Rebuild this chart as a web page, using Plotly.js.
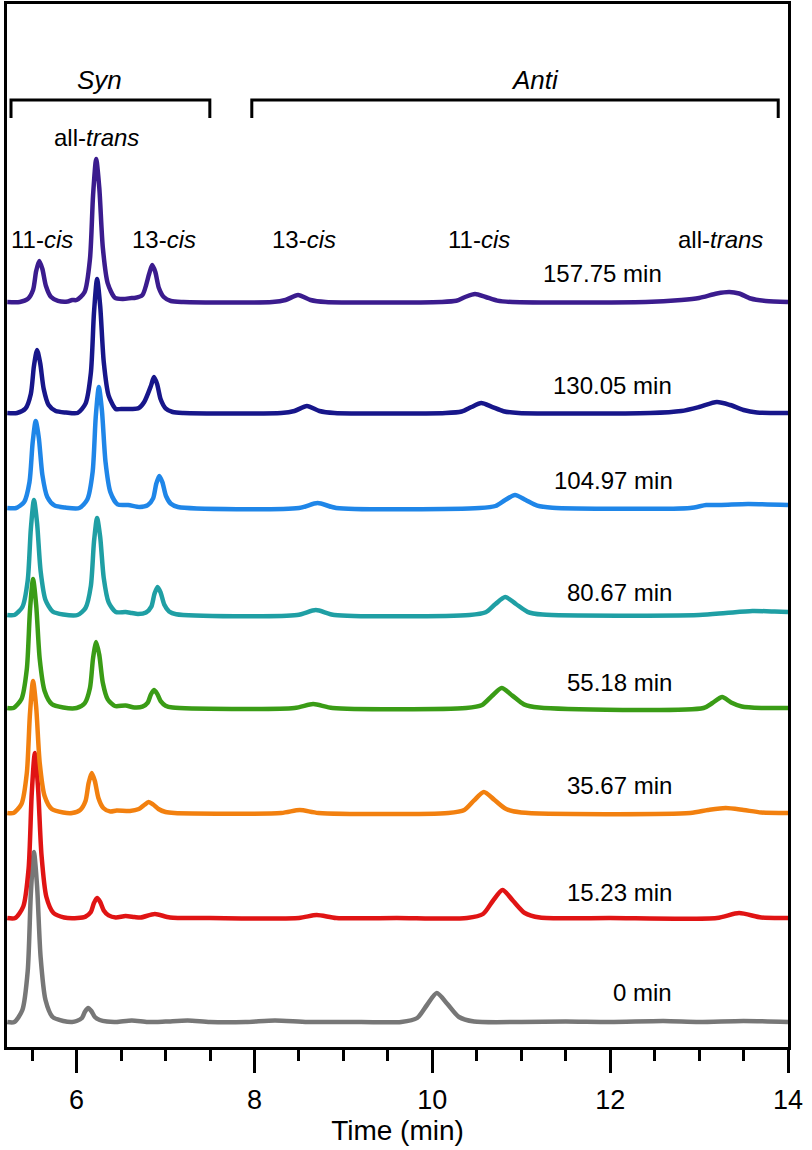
<!DOCTYPE html>
<html>
<head>
<meta charset="utf-8">
<script src="https://cdn.plot.ly/plotly-3.0.1.min.js"></script>
<style>html,body{margin:0;padding:0;background:#fff;}#chart{width:812px;height:1150px;}</style>
</head>
<body>
<div id="chart"></div>
<script>
// Sample labels (reaction times), bottom to top
const runLabels = ["0 min", "15.23 min", "35.67 min", "55.18 min", "80.67 min", "104.97 min", "130.05 min", "157.75 min"];
const runColors = ["#777777", "#e01414", "#f2800f", "#3a9c16", "#1f9fa4", "#1f86e8", "#17168a", "#3b1c8e"];
// Vertical stacking offset of each chromatogram (signal units)
const runOffsets = [25, 129, 234, 339, 432, 539, 634, 745];

// Retention time (min) and detector signal (above baseline) per run
const time0 = [5.22,5.30,5.39,5.45,5.485,5.52,5.555,5.595,5.65,5.73,5.85,5.95,6.0,6.06,6.095,6.13,6.165,6.205,6.26,6.34,6.45,6.62,6.8,7.0,7.25,7.5,7.9,8.23,8.6,9.2,9.65,9.83,9.94,10.05,10.17,10.3,10.47,11.0,11.5,12.0,12.6,13.0,13.5,14.0];
const sig0  = [0,0,12,51,128,170,136,65,22,5,1,0,1,4,10.5,14,11,5,2,0.4,0,1.5,0,0.5,1.5,0,0,1.5,0,0,0,4,17,29,18,5,0.5,0,0.5,0,1,0,1,0];

const time1 = [5.22,5.31,5.40,5.46,5.495,5.53,5.565,5.605,5.66,5.74,5.86,6.01,6.10,6.16,6.195,6.23,6.265,6.305,6.36,6.44,6.55,6.65,6.72,6.88,7.05,7.5,8.5,8.7,8.92,9.6,10.39,10.57,10.68,10.79,10.91,11.04,11.21,12.0,13.2,13.45,13.7,14.0];
const sig1  = [0,0,11.5,49.5,124,165,132,63,21,5,0.5,0,1.4,6,15,20,16,7.6,2.6,0.6,2,1,0.5,4,0.5,0,0,3,0,0,0,4,17,28,17,5,0.5,0,0,5,0.5,0];

const time2 = [5.22,5.29,5.38,5.44,5.475,5.51,5.545,5.585,5.64,5.72,5.85,5.95,6.04,6.10,6.135,6.17,6.205,6.245,6.30,6.38,6.45,6.6,6.7,6.76,6.81,6.86,6.92,7.0,7.1,8.3,8.51,8.72,10.18,10.36,10.47,10.58,10.70,10.83,11.0,12.9,13.1,13.3,13.5,13.7,14.0];
const sig2  = [0,0,9,40,99,132,106,50,17,4,0.5,0,3,12,30,40,32,15,5,1.5,2.5,2,4,8,11,8.5,4,1,0,0,3,0,0,3,12.6,21,13,4,0.5,0,3,5,3,0.5,0];

const time3 = [5.22,5.29,5.38,5.44,5.475,5.51,5.545,5.585,5.64,5.72,5.85,6.0,6.09,6.15,6.185,6.22,6.255,6.295,6.35,6.43,6.55,6.65,6.74,6.8,6.835,6.87,6.905,6.945,7.0,7.08,8.45,8.66,8.88,10.38,10.56,10.67,10.78,10.90,11.03,11.2,13.05,13.15,13.26,13.36,13.48,13.7,14.0];
const sig3  = [0,0,9,39,97,129,103,49,17,4,0.5,0,4.6,20,50,66,53,25,8.6,2,2.5,0.5,1.3,5.4,13.5,18,14.4,6.8,2.3,0.5,0,4,0,0,3,12,20,12.4,3.6,0.4,0,5,11,5.5,1.5,0,0];

const time4 = [5.22,5.30,5.39,5.45,5.485,5.52,5.555,5.595,5.65,5.73,5.85,6.01,6.10,6.16,6.195,6.23,6.265,6.305,6.36,6.44,6.55,6.62,6.69,6.78,6.84,6.875,6.91,6.945,6.985,7.04,7.12,8.48,8.69,8.9,10.42,10.6,10.71,10.82,10.94,11.07,11.24,13.0,13.3,13.6,13.85,14.0];
const sig4  = [0,0,8,34.5,86,115,92,44,15,3.5,0.5,0,7,29,73,97,78,37,12.6,3,3,2,1,2.5,8.4,21,28,22.4,10.6,3.6,0.8,0,5,0,0,2.7,11,18,11,3.2,0.4,0,2,4,3.5,3];

const time5 = [5.22,5.32,5.41,5.47,5.505,5.54,5.575,5.615,5.67,5.75,5.87,6.03,6.12,6.18,6.215,6.25,6.285,6.325,6.38,6.46,6.58,6.71,6.8,6.86,6.895,6.93,6.965,7.005,7.06,7.14,8.5,8.71,8.92,10.53,10.71,10.82,10.93,11.05,11.18,11.35,12.9,13.08,13.25,13.55,14.0];
const sig5  = [0,0,6,26,65,87,70,33,11,2.6,0.5,0,8.5,36,91,121,97,46,15.7,3.6,3,1,2.8,9.6,24,32,25.6,12,4.2,1,0,5,0,0,2,8,13,8,2.3,0.3,0,3,3,4,3];

const time6 = [5.22,5.33,5.425,5.485,5.52,5.555,5.59,5.63,5.685,5.765,5.88,6.01,6.10,6.16,6.195,6.23,6.265,6.305,6.36,6.44,6.5,6.62,6.7,6.76,6.835,6.87,6.905,6.945,7.0,7.08,7.2,8.3,8.45,8.59,8.73,8.9,10.15,10.33,10.44,10.55,10.67,10.8,10.97,12.45,12.8,13.0,13.2,13.35,13.5,13.65,14.0];
const sig6  = [0,0,4.4,19,47,63,50,24,8,2,0.5,0,9.4,40,100,134,107,51,17.4,4,4,4,5,11,27,36,29,13.7,4.7,1,0,0,2,7,2,0,0,1.5,6,10,6.2,1.8,0,0,2,6,11,8,3,0.5,0];

const time7 = [5.22,5.36,5.45,5.51,5.545,5.58,5.615,5.655,5.71,5.79,5.9,5.95,6.0,6.09,6.15,6.185,6.22,6.255,6.295,6.35,6.43,6.52,6.62,6.65,6.74,6.815,6.85,6.885,6.925,6.98,7.06,7.2,8.2,8.35,8.49,8.63,8.8,10.1,10.27,10.37,10.48,10.6,10.73,10.9,12.4,12.8,13.0,13.2,13.34,13.45,13.58,13.75,14.0];
const sig7  = [0,0,2.9,12,31,41,33,16,5.3,1.2,0.5,2,2,10,43,107,143,114,54,18.6,4.3,3,4,4,7,28,37,30,14,5,1,0,0,2,7,2,0,0,1.2,5,8,5,1.4,0,0,2,4,8.5,10,8.5,3.5,1,0];

const runTimes = [time0, time1, time2, time3, time4, time5, time6, time7];
const runSignals = [sig0, sig1, sig2, sig3, sig4, sig5, sig6, sig7];

// Peak labels
const synLabels = ["11-<i>cis</i>", "all-<i>trans</i>", "13-<i>cis</i>"];
const antiLabels = ["13-<i>cis</i>", "11-<i>cis</i>", "all-<i>trans</i>"];

const FONT = "Liberation Sans, Arial, sans-serif";

const traces = runTimes.map((t, i) => ({
  type: "scatter",
  mode: "lines",
  x: t,
  y: runSignals[i].map(v => v + runOffsets[i]),
  line: {color: runColors[i], width: 4.5, shape: "spline", smoothing: 0.7},
  hoverinfo: "skip",
  showlegend: false
}));

// label placement (layout only)
const runLabelX = [12.72, 12.72, 12.72, 12.72, 12.72, 12.73, 12.72, 12.61];
const runLabelY = [55, 155, 262, 365, 455, 567, 662, 774];

const annotations = [];
runLabels.forEach((txt, i) => {
  annotations.push({x: runLabelX[i], y: runLabelY[i], xref: "x", yref: "y", text: txt,
    showarrow: false, xanchor: "right", yanchor: "middle", font: {family: FONT, size: 24, color: "#000"}});
});
const synLabelPos = [[5.61, 808], [6.228, 910], [6.98, 808]];
const antiLabelPos = [[8.556, 808], [10.52, 808], [13.24, 808]];
synLabels.forEach((txt, i) => annotations.push({x: synLabelPos[i][0], y: synLabelPos[i][1], xref: "x", yref: "y",
  text: txt, showarrow: false, font: {family: FONT, size: 24, color: "#000"}}));
antiLabels.forEach((txt, i) => annotations.push({x: antiLabelPos[i][0], y: antiLabelPos[i][1], xref: "x", yref: "y",
  text: txt, showarrow: false, font: {family: FONT, size: 24, color: "#000"}}));
annotations.push({x: 6.262, y: 967, xref: "x", yref: "y", text: "<i>Syn</i>", showarrow: false,
  font: {family: FONT, size: 26, color: "#000"}});
annotations.push({x: 11.16, y: 967, xref: "x", yref: "y", text: "<i>Anti</i>", showarrow: false,
  font: {family: FONT, size: 26, color: "#000"}});

const bracket = (x0, x1) => ({type: "path", xref: "x", yref: "y",
  path: `M ${x0},929 L ${x0},947 L ${x1},947 L ${x1},929`, line: {color: "#000", width: 3}});
const shapes = [bracket(5.262, 7.498), bracket(7.97, 13.89)];

const layout = {
  width: 812, height: 1150,
  margin: {l: 7, r: 24, t: 4, b: 103},
  paper_bgcolor: "#fff", plot_bgcolor: "#fff",
  showlegend: false,
  xaxis: {
    range: [5.217, 14], tickvals: [6, 8, 10, 12, 14], ticktext: ["6", "8", "10", "12", "14"],
    ticks: "outside", ticklen: 23, tickwidth: 3, tickcolor: "#000",
    minor: {dtick: 0.5, tick0: 0, ticks: "outside", ticklen: 11, tickwidth: 3, tickcolor: "#000", showgrid: false},
    showline: true, mirror: true, linewidth: 3, linecolor: "#000",
    showgrid: false, zeroline: false,
    tickfont: {family: FONT, size: 27, color: "#000"},
    ticklabelstandoff: 4,
    title: {text: "Time (min)", font: {family: FONT, size: 28, color: "#000"}, standoff: 2}
  },
  yaxis: {
    range: [0, 1043], showticklabels: false, ticks: "",
    showline: true, mirror: true, linewidth: 3, linecolor: "#000",
    showgrid: false, zeroline: false
  },
  annotations: annotations,
  shapes: shapes
};

Plotly.newPlot("chart", traces, layout, {displayModeBar: false, staticPlot: true});
</script>
</body>
</html>
